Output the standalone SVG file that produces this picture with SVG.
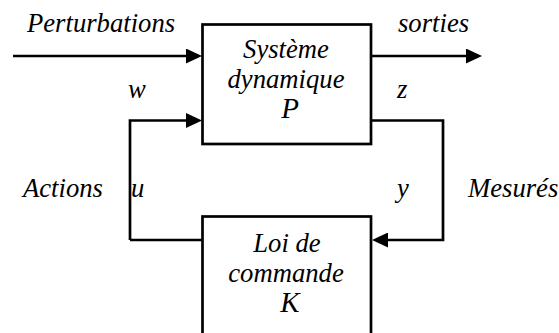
<svg xmlns="http://www.w3.org/2000/svg" width="559" height="333" viewBox="0 0 559 333">
  <style>
    .box { fill: #ffffff; stroke: #000000; stroke-width: 2.7; }
    .wire { fill: none; stroke: #000000; stroke-width: 2.7; }
  </style>
  <defs>
    <marker id="arrow" viewBox="0 0 16 15" refX="8" refY="7.5" markerWidth="16" markerHeight="15" markerUnits="userSpaceOnUse" orient="auto">
      <path d="M0,0 L16,7.5 L0,15 Z" fill="#000000"/>
    </marker>
  </defs>
  <rect width="559" height="333" fill="#ffffff"/>

  <g id="connectors">
    <path class="wire" d="M13,56 L194,56" marker-end="url(#arrow)"/>
    <path class="wire" d="M371,56 L474,56" marker-end="url(#arrow)"/>
    <path class="wire" d="M130,240 L130,120.5 L194,120.5" marker-end="url(#arrow)"/>
    <path class="wire" d="M371,120.5 L443,120.5 L443,240 L380,240" marker-end="url(#arrow)"/>
    <path class="wire" d="M130,240 L202,240"/>
  </g>

  <g id="node-P">
    <rect class="box" x="202.5" y="24.5" width="168.5" height="119.5"/>
    <text x="286" y="58" text-anchor="middle" font-family="Liberation Serif, serif" font-style="italic" font-size="26.67">Syst&#232;me</text>
    <text x="286" y="88" text-anchor="middle" font-family="Liberation Serif, serif" font-style="italic" font-size="26.67">dynamique</text>
    <text x="290" y="118" text-anchor="middle" font-family="Liberation Serif, serif" font-style="italic" font-size="29">P</text>
  </g>

  <g id="node-K">
    <rect class="box" x="202.5" y="216.5" width="168.5" height="130"/>
    <text x="287" y="252" text-anchor="middle" font-family="Liberation Serif, serif" font-style="italic" font-size="26.67">Loi de</text>
    <text x="286" y="282" text-anchor="middle" font-family="Liberation Serif, serif" font-style="italic" font-size="26.67">commande</text>
    <text x="290" y="312" text-anchor="middle" font-family="Liberation Serif, serif" font-style="italic" font-size="29">K</text>
  </g>

  <g id="labels" font-family="Liberation Serif, serif" font-style="italic" font-size="26.67">
    <text x="27" y="32">Perturbations</text>
    <text x="398" y="32">sorties</text>
    <text x="128" y="98">w</text>
    <text x="397" y="98">z</text>
    <text x="23" y="197">Actions</text>
    <text x="131" y="197">u</text>
    <text x="397" y="197">y</text>
    <text x="468" y="197">Mesur&#233;s</text>
  </g>
</svg>
